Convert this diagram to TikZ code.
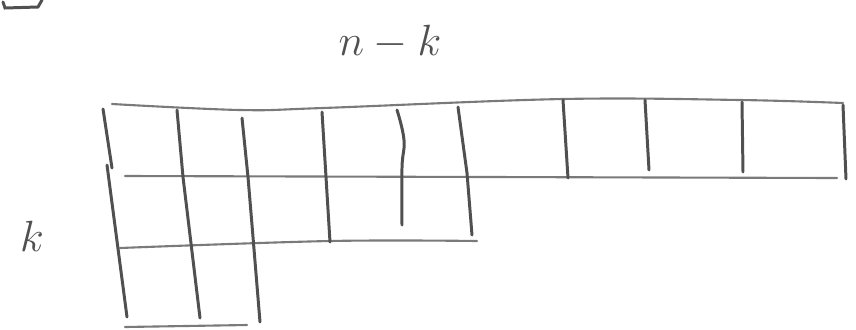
\documentclass[tikz,border=0pt]{standalone}
\usepackage{xcolor}
\usetikzlibrary{positioning}
\definecolor{pencil}{HTML}{505050}
\definecolor{lightpencil}{HTML}{7A7A7A}
\tikzset{rule/.style={draw=lightpencil,line width=1.2pt,line cap=round},
  bar/.style={draw=pencil,line width=1.7pt,line cap=round},
  hand/.style={text=pencil,font=\fontsize{34}{40}\selectfont,inner sep=0pt}}

\begin{document}
\begin{tikzpicture}[x=0.02cm,y=-0.02cm]
\useasboundingbox (0,0) rectangle (856,329);
% labels
\node[hand] (len) at (390,42) {$n-k$};
\node[hand] (hgt) at (32,236) {$k$};
% corner scrap
\draw[bar] (3,2) -- (5,8) -- (38,7) -- (42,0);
% horizontal rules
\draw[rule] plot[smooth,tension=0.6] coordinates {(112,104) (240,110) (323,108) (563,99) (740,100) (843,103)};
\draw[rule] (125,176) -- (490,177) -- (837,178);
\draw[rule] plot[smooth,tension=0.6] coordinates {(120,248) (330,241) (477,241)};
\draw[rule] (125,327) -- (247,325);
% vertical bars
\draw[bar] (103,109) -- (112,168);
\draw[bar] (107,165) -- (127,317);
\draw[bar] (177,110) -- (183,177) -- (200,318);
\draw[bar] (242,118) -- (248,177) -- (253,237) -- (260,322);
\draw[bar] (322,112) -- (330,242);
\draw[bar] plot[smooth,tension=0.7] coordinates {(397,110) (404,140) (402,168) (402,225)};
\draw[bar] (458,107) -- (467,173) -- (472,235);
\draw[bar] (563,100) -- (568,178);
\draw[bar] (645,100) -- (649,170);
\draw[bar] (742,102) -- (743,172);
\draw[bar] (843,105) -- (846,179);
\end{tikzpicture}
\end{document}
